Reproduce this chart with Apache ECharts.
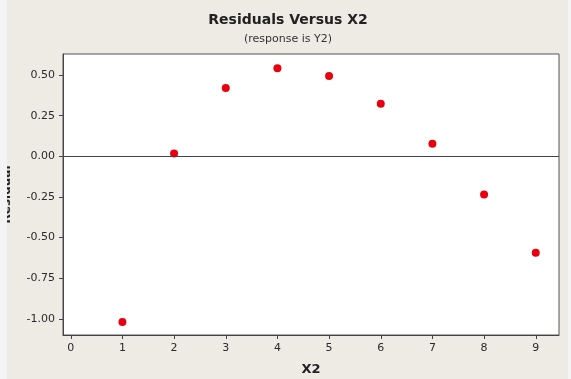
<!DOCTYPE html>
<html>
<head>
<meta charset="utf-8">
<script src="https://cdn.jsdelivr.net/npm/echarts@6/dist/echarts.min.js"></script>
<style>
html,body{margin:0;padding:0;background:#EEEAE4;}
#c{width:571px;height:379px;}
</style>
</head>
<body>
<div id="c"></div>
<script>
var xValues = [1, 2, 3, 4, 5, 6, 7, 8, 9];
var residuals = [-1.02, 0.018, 0.42, 0.543, 0.494, 0.324, 0.077, -0.235, -0.594];
var xTicks = [0, 1, 2, 3, 4, 5, 6, 7, 8, 9];
var yTicks = [-1.00, -0.75, -0.50, -0.25, 0.00, 0.25, 0.50];
var titleText = 'Residuals Versus X2';
var subtitleText = '(response is Y2)';

var chart = echarts.init(document.getElementById('c'), null, {renderer: 'canvas'});
var font = 'Tahoma, "DejaVu Sans", sans-serif';
var option = {
  backgroundColor: '#EEEAE4',
  animation: false,
  title: {
    text: titleText,
    subtext: subtitleText,
    left: 283,
    top: 8,
    textAlign: 'center',
    itemGap: 7,
    textStyle: {fontFamily: font, fontSize: 14, fontWeight: 'bold', color: '#222'},
    subtextStyle: {fontFamily: font, fontSize: 11, color: '#333'}
  },
  grid: {
    left: 63, top: 54, right: 12, bottom: 44,
    outerBoundsMode: 'none',
    containLabel: false,
    show: true, backgroundColor: '#FFFFFF', borderColor: '#555', borderWidth: 1
  },
  xAxis: {
    type: 'value',
    min: -0.15, max: 9.45,
    name: 'X2',
    nameLocation: 'middle',
    nameGap: 28,
    nameTextStyle: {fontFamily: font, fontSize: 13, fontWeight: 'bold', color: '#222'},
    axisLine: {show: true, onZero: false, lineStyle: {color: '#444', width: 1}},
    axisTick: {show: true, length: 4, customValues: xTicks, lineStyle: {color: '#444'}},
    axisLabel: {customValues: xTicks, fontFamily: font, fontSize: 11, color: '#2a2a2a', margin: 8,
      formatter: function (v) { return String(v); }},
    splitLine: {show: false}
  },
  yAxis: {
    type: 'value',
    min: -1.10, max: 0.63,
    name: 'Residual',
    nameLocation: 'middle',
    nameGap: 50,
    nameTextStyle: {fontFamily: font, fontSize: 12, fontWeight: 'bold', color: '#222'},
    axisLine: {show: true, onZero: false, lineStyle: {color: '#444', width: 1}},
    axisTick: {show: true, length: 4, customValues: yTicks, lineStyle: {color: '#444'}},
    axisLabel: {customValues: yTicks, fontFamily: font, fontSize: 11, color: '#2a2a2a', margin: 8,
      formatter: function (v) { return v.toFixed(2); }},
    splitLine: {show: false}
  },
  series: [{
    type: 'scatter',
    data: xValues.map(function (x, i) { return [x, residuals[i]]; }),
    symbol: 'circle',
    symbolSize: 8,
    itemStyle: {color: '#E8000F', opacity: 1},
    markLine: {
      silent: true,
      symbol: 'none',
      label: {show: false},
      lineStyle: {color: '#444', width: 1, type: 'solid'},
      data: [{yAxis: 0}]
    },
    z: 3
  }],
  graphic: [
    {type: 'rect', left: 0, top: 0, shape: {width: 7, height: 379}, style: {fill: '#F4F4F4'}, z: 100},
    {type: 'rect', right: 0, top: 0, shape: {width: 3, height: 379}, style: {fill: '#F4F4F4'}, z: 100}
  ]
};
chart.setOption(option);
</script>
</body>
</html>
